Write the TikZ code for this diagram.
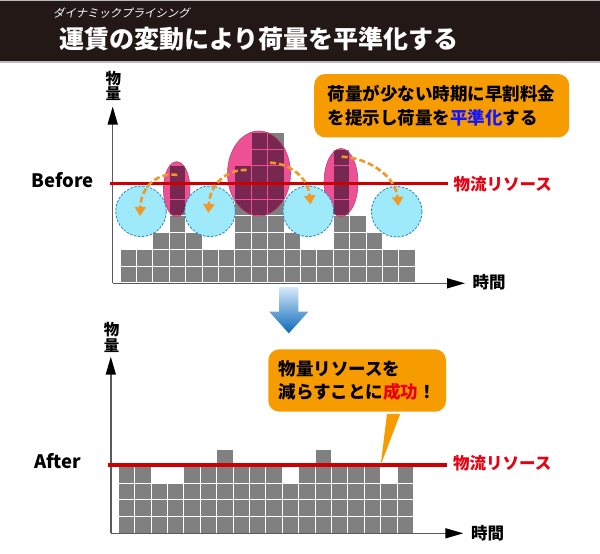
\documentclass[tikz,border=0pt]{standalone}
\usepackage{fontspec}
\setmainfont{Noto Sans CJK JP}
\newfontfamily\jpslant{Noto Sans CJK JP}[FakeSlant=0.2]
\usetikzlibrary{arrows.meta}
\definecolor{bandbg}{RGB}{35,24,21}
\definecolor{bandline}{RGB}{185,185,185}
\definecolor{cellgrey}{RGB}{128,128,128}
\definecolor{pinkfill}{RGB}{238,80,150}
\definecolor{pinkedge}{RGB}{170,80,110}
\definecolor{darkcell}{RGB}{120,40,80}
\definecolor{cyanfill}{RGB}{158,234,250}
\definecolor{cyanedge}{RGB}{40,128,200}
\definecolor{arroworange}{RGB}{240,152,40}
\definecolor{calloutorange}{RGB}{246,155,0}
\definecolor{resred}{RGB}{204,0,0}
\definecolor{labred}{RGB}{230,0,18}
\definecolor{hiblue}{RGB}{20,20,255}
\definecolor{axisgrey}{RGB}{90,90,90}
\definecolor{arrtop}{RGB}{214,234,249}
\definecolor{arrmid}{RGB}{80,170,230}
\definecolor{arrbot}{RGB}{10,104,184}
\newcommand\bfcells[1]{%
  \foreach \h [count=\i from 0] in {2,2,3,7,3,2,2,7,9,9,3,2,2,8,4,3,2,2} {%
    \foreach \j in {1,...,\h} {%
      \path[#1] ({120+\i*16.4},{282.7-\j*16.7}) rectangle ++(16.4,16.7);}}}
\newcommand\afcells[1]{%
  \foreach \h [count=\i from 0] in {4,4,3,3,4,4,5,4,4,4,3,4,5,4,4,4,3,4} {%
    \foreach \j in {1,...,\h} {%
      \path[#1] ({118.3+\i*16.4},{533.3-\j*16.7}) rectangle ++(16.4,16.7);}}}
\begin{document}
\begin{tikzpicture}[x=1pt,y=-1pt,
  cellbox/.style={fill=cellgrey, draw=white, line width=1pt},
  darkbox/.style={fill=darkcell, draw=pinkfill, line width=1pt},
  pinkblob/.style={fill=pinkfill},
  pinkrim/.style={draw=pinkedge, line width=0.6pt},
  bluecirc/.style={fill=cyanfill, draw=cyanedge, line width=0.8pt, dash pattern=on 2.5pt off 1.5pt},
  shiftarrow/.style={draw=arroworange, line width=2.6pt, dash pattern=on 6pt off 3pt, -{Triangle[length=9pt,width=11pt]}},
  resline/.style={draw=resred, line width=3.5pt},
  reslabel/.style={text=labred, font=\bfseries\fontsize{16.5}{18}\selectfont, anchor=west, inner sep=0pt},
  axisline/.style={draw=axisgrey, line width=1.5pt, -{Triangle[length=18pt,width=10pt,color=black]}},
  axislabel/.style={font=\bfseries\fontsize{15.5}{15.5}\selectfont, align=center, inner sep=0pt},
  timelabel/.style={font=\bfseries\fontsize{16.5}{18}\selectfont, anchor=west, inner sep=0pt},
  phaselabel/.style={font=\bfseries\fontsize{18.5}{20}\selectfont, inner sep=0pt},
  callout/.style={fill=calloutorange, rounded corners=11pt, align=left, font=\bfseries\fontsize{17.5}{23.3}\selectfont, inner sep=0pt},
]
\useasboundingbox (0,0) rectangle (600,554);
\fill[white] (0,0) rectangle (600,554);
% title band
\fill[bandline] (0,0) rectangle (600,63);
\fill[bandbg] (0,1) rectangle (600,61);
\node[anchor=west, text=white, font=\jpslant\fontsize{11.4}{13}\selectfont, inner sep=0pt] (subtitle) at (53,13.5) {ダイナミックプライシング};
\node[anchor=west, text=white, font=\bfseries\fontsize{25}{28}\selectfont, inner sep=0pt] (title) at (59,39) {運賃の変動により荷量を平準化する};

% ---------- Before ----------
\bfcells{cellbox}
\coordinate (e1c) at (176.7,189.2);
\coordinate (e2c) at (259,173.5);
\coordinate (e3c) at (341,182.5);
\path[pinkblob] (e1c) ellipse [x radius=13.3pt, y radius=27.5pt];
\path[pinkblob] (e2c) ellipse [x radius=31.5pt, y radius=42.5pt];
\path[pinkblob] (e3c) ellipse [x radius=17pt, y radius=34pt];
\begin{scope}
  \clip (e1c) ellipse [x radius=13.3pt, y radius=27.5pt]
        (e2c) ellipse [x radius=31.5pt, y radius=42.5pt]
        (e3c) ellipse [x radius=17pt, y radius=34pt];
  \bfcells{darkbox}
\end{scope}
\path[pinkrim] (e1c) ellipse [x radius=13.3pt, y radius=27.5pt];
\path[pinkrim] (e2c) ellipse [x radius=31.5pt, y radius=42.5pt];
\path[pinkrim] (e3c) ellipse [x radius=17pt, y radius=34pt];

\coordinate (c1c) at (141,211.3);
\coordinate (c2c) at (210,211.3);
\coordinate (c3c) at (308.3,211.3);
\coordinate (c4c) at (396.7,211.7);
\foreach \c in {c1c,c2c,c3c,c4c}
  \path[bluecirc] (\c) circle [radius=25.3pt];

% axes
\coordinate (bo) at (112.7,283.3);
\coordinate (by) at (112.7,106.5);
\coordinate (bx) at (465,283.3);
\draw[axisline] (bo) -- (by);
\draw[axisline] (bo) -- (bx);
\node[axislabel] (bylab) at (113.3,86) {物\\量};
\node[timelabel] (bxlab) at (472.5,282) {時間};

% resource line
\coordinate (r1a) at (110,183.3);
\coordinate (r1b) at (448,183.3);
\draw[resline] (r1a) -- (r1b);
\node[reslabel] (r1lab) at (453.5,184.5) {物流リソース};
\node[phaselabel] (before) at (62.5,180) {Before};

% shifting arrows
\coordinate (a1s) at (177.3,175);
\coordinate (a1e) at (140,216);
\coordinate (a2s) at (246.7,170);
\coordinate (a2e) at (208.3,213);
\coordinate (a3s) at (270,162.7);
\coordinate (a3e) at (310.5,204.5);
\coordinate (a4s) at (341.7,156.7);
\coordinate (a4e) at (398.3,206);
\draw[shiftarrow] (a1s) .. controls (158,172) and (141,186) .. (a1e);
\draw[shiftarrow] (a2s) .. controls (227,169) and (210,184) .. (a2e);
\draw[shiftarrow] (a3s) .. controls (289,163) and (308,177) .. (a3e);
\draw[shiftarrow] (a4s) .. controls (371,158) and (396,178) .. (a4e);

% callout 1
\node[callout, minimum width=255pt, minimum height=63.3pt] (call1) at (441.7,105.7)
  {荷量が少ない時期に早割料金\\を提示し荷量を{\color{hiblue}平準化}する};

% transition arrow
\shade[top color=arrtop, middle color=arrmid, bottom color=arrbot]
  (279,287) -- (298.3,287) -- (298.3,311.7) -- (308.3,311.7) -- (288.8,333.3)
  -- (269.3,311.7) -- (279,311.7) -- cycle;

% ---------- After ----------
\afcells{cellbox}
\coordinate (ao) at (110.8,533.3);
\coordinate (ay) at (110.8,356.7);
\coordinate (ax) at (463.3,533.3);
\draw[axisline] (ao) -- (ay);
\draw[axisline] (ao) -- (ax);
\node[axislabel] (aylab) at (111.7,337.5) {物\\量};
\node[timelabel] (axlab) at (471,533) {時間};

\coordinate (r2a) at (108,465);
\coordinate (r2b) at (446.7,465);
\draw[resline] (r2a) -- (r2b);
\node[reslabel] (r2lab) at (453,463) {物流リソース};
\node[phaselabel] (after) at (57.5,461) {After};

% callout 2
\node[callout, minimum width=177.7pt, minimum height=62.4pt] (call2) at (357.2,380.5)
  {物量リソースを\\減らすことに{\color{labred}成功}！};
\coordinate (tip) at (380.7,465);
\fill[calloutorange] ([xshift=29.8pt,yshift=-2pt]call2.south) -- (tip) -- ([xshift=43pt,yshift=-2pt]call2.south) -- cycle;
\end{tikzpicture}
\end{document}
